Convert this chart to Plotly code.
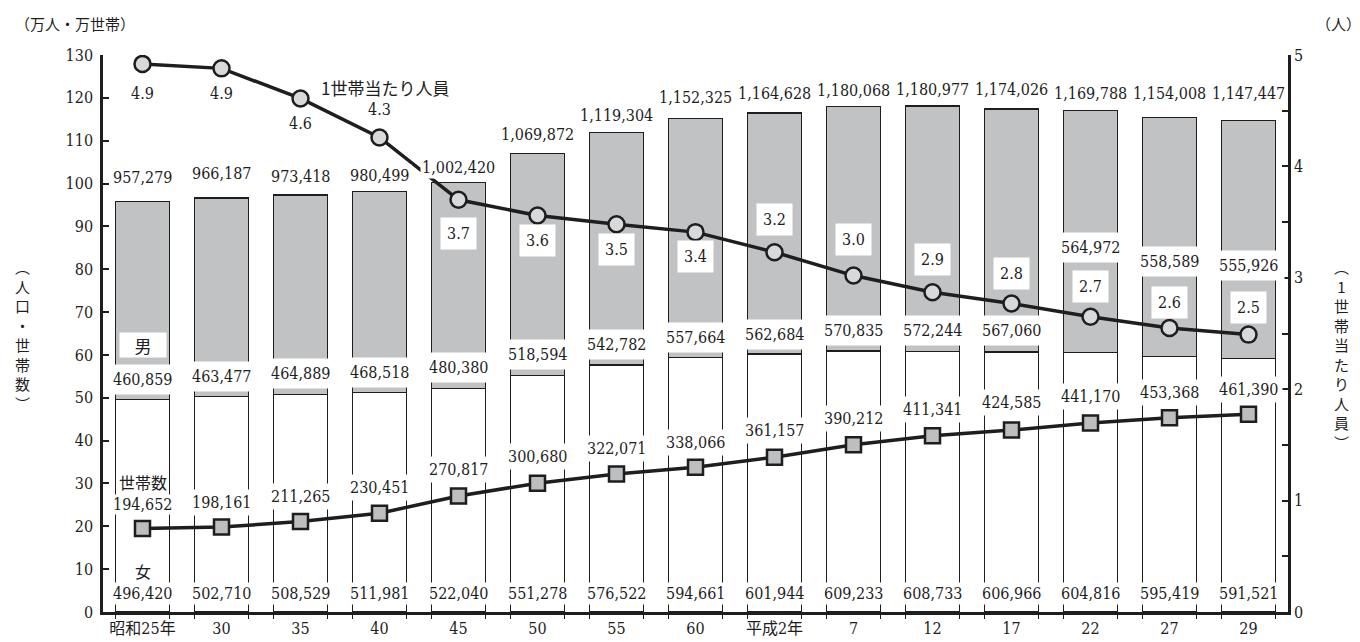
import plotly.graph_objects as go

# ---------------- data ----------------
years = ["昭和25年", "30", "35", "40", "45", "50", "55", "60",
         "平成2年", "7", "12", "17", "22", "27", "29"]
total = [957279, 966187, 973418, 980499, 1002420, 1069872, 1119304, 1152325,
         1164628, 1180068, 1180977, 1174026, 1169788, 1154008, 1147447]
male = [460859, 463477, 464889, 468518, 480380, 518594, 542782, 557664,
        562684, 570835, 572244, 567060, 564972, 558589, 555926]
female = [496420, 502710, 508529, 511981, 522040, 551278, 576522, 594661,
          601944, 609233, 608733, 606966, 604816, 595419, 591521]
households = [194652, 198161, 211265, 230451, 270817, 300680, 322071, 338066,
              361157, 390212, 411341, 424585, 441170, 453368, 461390]
per_household = [4.92, 4.88, 4.61, 4.26, 3.70, 3.56, 3.48, 3.41,
                 3.23, 3.02, 2.87, 2.77, 2.65, 2.55, 2.49]
per_household_labels = ["4.9", "4.9", "4.6", "4.3", "3.7", "3.6", "3.5", "3.4",
                        "3.2", "3.0", "2.9", "2.8", "2.7", "2.6", "2.5"]

# label placement (left-axis units), layout only
total_lab_y = [101.4, 102.3, 101.6, 101.9, 103.7, 111.5, 115.8, 120.0,
               121.1, 121.8, 122.0, 122.0, 120.9, 120.9, 121.1]
male_lab_y = [54.2, 54.9, 55.6, 55.8, 57.0, 60.0, 62.5, 64.1,
              64.8, 65.7, 65.7, 65.7, 85.1, 81.9, 80.8]
female_lab_y = 4.3
hh_lab_y = [25.2, 25.6, 27.0, 29.1, 33.2, 36.2, 38.2, 39.6,
            42.3, 45.1, 47.2, 48.8, 50.4, 51.3, 52.0]
pph_lab_y = [121.1, 121.1, 114.0, 117.2, 88.3, 86.7, 84.5, 82.9,
             91.6, 87.0, 82.2, 79.0, 76.0, 72.3, 71.0]

FONT = "DejaVu Serif Condensed, DejaVu Serif, serif"
CJK = "Noto Sans CJK JP"
INK = "#1e1e1e"
GRAY = "#c1c2c4"
BARW = 0.685

idx = list(range(len(years)))
to_man = lambda v: [x / 10000 for x in v]

fig = go.Figure()
fig.add_trace(go.Bar(x=idx, y=to_man(female), width=BARW,
                     marker=dict(color="white", line=dict(color=INK, width=1.2)),
                     hoverinfo="skip"))
fig.add_trace(go.Bar(x=idx, y=to_man(male), width=BARW,
                     marker=dict(color=GRAY, line=dict(color=INK, width=1.2)),
                     hoverinfo="skip"))
fig.add_trace(go.Scatter(x=idx, y=to_man(households), mode="lines+markers",
                         line=dict(color=INK, width=3.5),
                         marker=dict(symbol="square", size=15, color="#bdbec0",
                                     line=dict(color=INK, width=2.5)),
                         hoverinfo="skip"))
fig.add_trace(go.Scatter(x=idx, y=per_household, yaxis="y2", mode="lines+markers",
                         line=dict(color=INK, width=3.5),
                         marker=dict(symbol="circle", size=16, color="#d8d9db",
                                     line=dict(color=INK, width=2.5)),
                         hoverinfo="skip"))
# helper trace for bar-edge tick axis
edges = []
for i in idx:
    edges += [i - BARW / 2, i + BARW / 2]
fig.add_trace(go.Scatter(x=[0], y=[0], xaxis="x2", mode="markers",
                         marker=dict(opacity=0), hoverinfo="skip"))

ann = []
def lab(x, y, text, size=16, bg="white", pad=2, family=FONT, **kw):
    d = dict(x=x, y=y, xref="x", yref="y", text=text, showarrow=False,
             font=dict(family=family, size=size, color=INK),
             bgcolor=bg, borderpad=pad, xanchor="center", yanchor="middle")
    d.update(kw)
    ann.append(d)

for i in idx:
    lab(i, total_lab_y[i], f"{total[i]:,}", pad=1)
    lab(i, male_lab_y[i], f"{male[i]:,}", pad=5)
    lab(i, female_lab_y, f"{female[i]:,}", pad=1)
    lab(i, hh_lab_y[i], f"{households[i]:,}", pad=0 if i == 0 else 3)
    lab(i, pph_lab_y[i], per_household_labels[i], pad=6 if i >= 4 else 1)

lab(0, 62.3, "男", size=17, pad=2, width=42, height=20, family=CJK)
lab(0, 9.5, "女", size=16, bg="rgba(0,0,0,0)", family=CJK)
lab(0, 30.4, "世帯数", size=16, pad=0, family=CJK)
lab(3.07, 122.5, "1世帯当たり人員", size=17, bg="rgba(0,0,0,0)", family=CJK)

def paper_text(x, y, text, size=15, xanchor="center"):
    ann.append(dict(x=x, y=y, xref="paper", yref="paper", text=text, showarrow=False,
                    font=dict(family=CJK, size=size, color=INK),
                    xanchor=xanchor, yanchor="middle"))

paper_text(-0.076, 1.056, "（万人・万世帯）", size=15, xanchor="left")
paper_text(1.043, 1.056, "（人）", size=15)
paper_text(-0.068, 0.498, "<br>".join(list("︵人口・世帯数︶")), size=15)
paper_text(1.045, 0.463, "<br>".join(["︵", "1", "世", "帯", "当", "た", "り", "人", "員", "︶"]), size=15)

tickfont = dict(family=FONT + ", " + CJK, size=16, color=INK)
fig.update_layout(
    width=1360, height=642,
    margin=dict(l=95, r=80, t=47, b=27),
    paper_bgcolor="white", plot_bgcolor="white",
    barmode="stack", showlegend=False,
    font=dict(family=FONT + ", " + CJK, size=16, color=INK),
    annotations=ann,
    xaxis=dict(range=[-0.5, len(years) - 0.5], tickmode="array", tickvals=idx,
               ticktext=years, ticks="", showgrid=False, zeroline=False,
               showline=True, linecolor=INK, linewidth=2.5, tickfont=tickfont),
    xaxis2=dict(range=[-0.5, len(years) - 0.5], overlaying="x", anchor="y",
                side="bottom", tickmode="array", tickvals=edges,
                ticks="outside", ticklen=6, tickwidth=1.2, tickcolor=INK,
                showticklabels=False, showgrid=False, zeroline=False, showline=False),
    yaxis=dict(range=[0, 130], dtick=10, ticks="inside", ticklen=6, tickwidth=1.5,
               tickcolor=INK, showgrid=False, zeroline=False, showline=True,
               linecolor=INK, linewidth=2.5, ticklabelstandoff=4, tickfont=tickfont),
    yaxis2=dict(range=[0, 5], overlaying="y", side="right", tickmode="array",
                tickvals=[0, 1, 2, 3, 4, 5], ticks="inside", ticklen=6, tickwidth=1.5,
                tickcolor=INK, showgrid=False, zeroline=False, showline=True,
                linecolor=INK, linewidth=2.5,
                minor=dict(dtick=0.5, ticks="inside", ticklen=6, tickwidth=1.5,
                           tickcolor=INK),
                tickfont=tickfont),
)

fig.write_html("out.html")
